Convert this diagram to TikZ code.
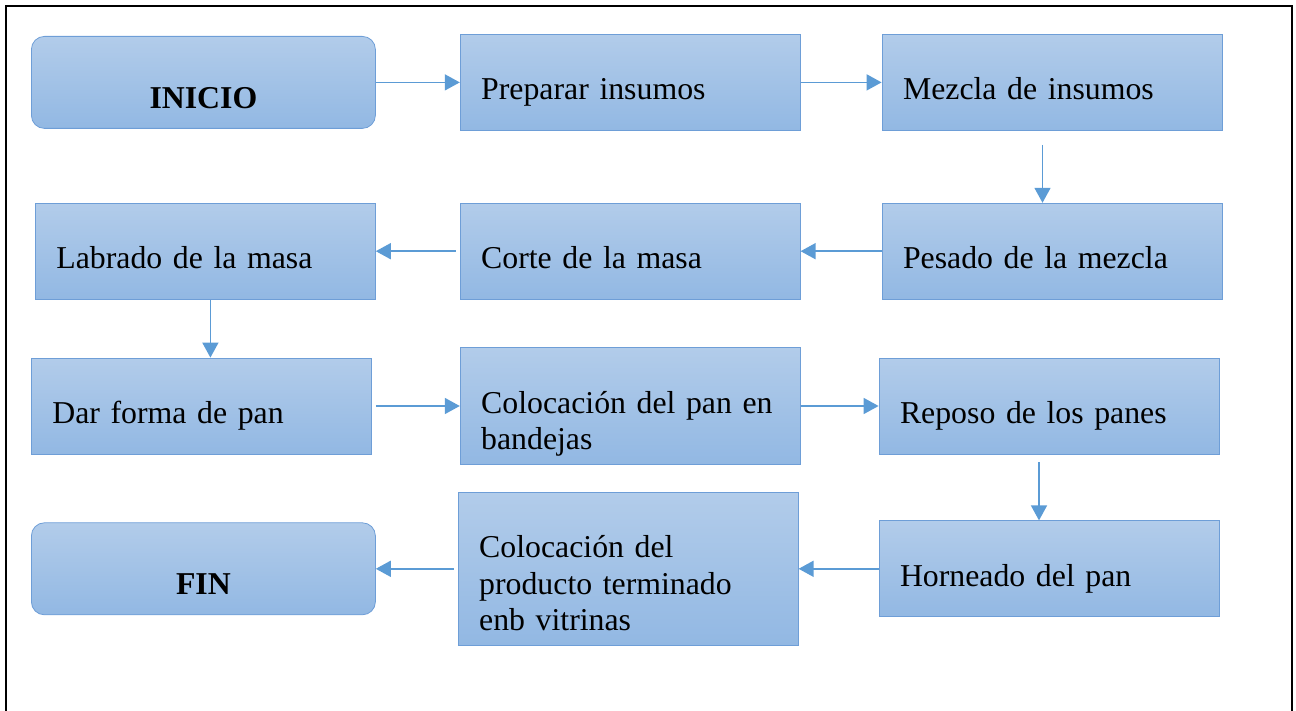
\documentclass[tikz,border=0pt]{standalone}
\usepackage{fontspec}
\setmainfont{Liberation Serif}
\usepackage{xcolor}
\usepackage{tikz}
\usetikzlibrary{shapes,arrows.meta,positioning}
\definecolor{boxtop}{RGB}{178,204,234}
\definecolor{boxbot}{RGB}{146,184,227}
\definecolor{boxline}{RGB}{110,158,215}
\definecolor{flowblue}{RGB}{91,155,213}
\tikzstyle{terminal} = [rectangle, draw=boxline, top color=boxtop, bottom color=boxbot, rounded corners=6.5pt, text width=151pt, align=center, inner xsep=10.5pt, inner ysep=0pt, text height=36pt, text depth=10pt, font=\fontsize{15.9}{18.2}\selectfont\bfseries]
\tikzstyle{process} = [rectangle, draw=boxline, top color=boxtop, bottom color=boxbot, text width=149pt, align=left, inner xsep=10.5pt, inner ysep=0pt, text height=32.75pt, text depth=15.25pt, font=\fontsize{15.9}{18.2}\selectfont, execute at begin node={\fontdimen2\font=3.1pt}]
\tikzstyle{flow} = [draw=flowblue, line width=0.8pt, -{Triangle[length=7.5pt,width=8pt]}]

\begin{document}
\begin{tikzpicture}[auto]
    \useasboundingbox (0,0) rectangle (648pt,-355.5pt);
    \draw [line width=1.35pt] (3pt,-355.5pt) -- (3pt,-3pt) -- (646pt,-3pt) -- (646pt,-355.5pt);

    \node [terminal, anchor=north west] (inicio) at (15.5pt,-18pt) {INICIO};
    \node [process, right=42pt of inicio] (preparar) {Preparar insumos};
    \node [process, right=40.5pt of preparar] (mezcla) {Mezcla de insumos};
    \node [process, below=36pt of mezcla] (pesado) {Pesado de la mezcla};
    \node [process, left=40.5pt of pesado] (corte) {Corte de la masa};
    \node [process, left=42pt of corte] (labrado) {Labrado de la masa};
    \node [process, below=29pt of labrado, xshift=-2pt] (forma) {Dar forma de pan};
    \node [process, right=44pt of forma, text depth=25.75pt] (bandejas) {Colocación del pan en\\bandejas};
    \node [process, right=39pt of bandejas] (reposo) {Reposo de los panes};
    \node [process, below=33pt of reposo] (horneado) {Horneado del pan};
    \node [process, left=40pt of horneado, text depth=43.75pt] (vitrinas) {Colocación del\\producto terminado\\enb vitrinas};
    \node [terminal, left=41pt of vitrinas] (fin) {FIN};

    \path [flow] (inicio) -- (preparar);
    \path [flow] (preparar) -- (mezcla);
    \path [flow, shorten <=7pt] ([xshift=-4.75pt]mezcla.south) -- ([xshift=-4.75pt]pesado.north);
    \path [flow] (pesado) -- (corte);
    \path [flow, shorten <=2pt] (corte) -- (labrado);
    \path [flow] ([xshift=2.5pt]labrado.south) -- ([xshift=2.5pt]labrado.south |- forma.north);
    \path [flow, shorten <=2pt] (forma.east) -- (forma.east -| bandejas.west);
    \path [flow] (bandejas) -- (reposo);
    \path [flow, shorten <=4pt] ([xshift=-5pt]reposo.south) -- ([xshift=-5pt]horneado.north);
    \path [flow] (horneado) -- (vitrinas);
    \path [flow, shorten <=2pt] (vitrinas.west) -- (vitrinas.west -| fin.east);
\end{tikzpicture}
\end{document}
